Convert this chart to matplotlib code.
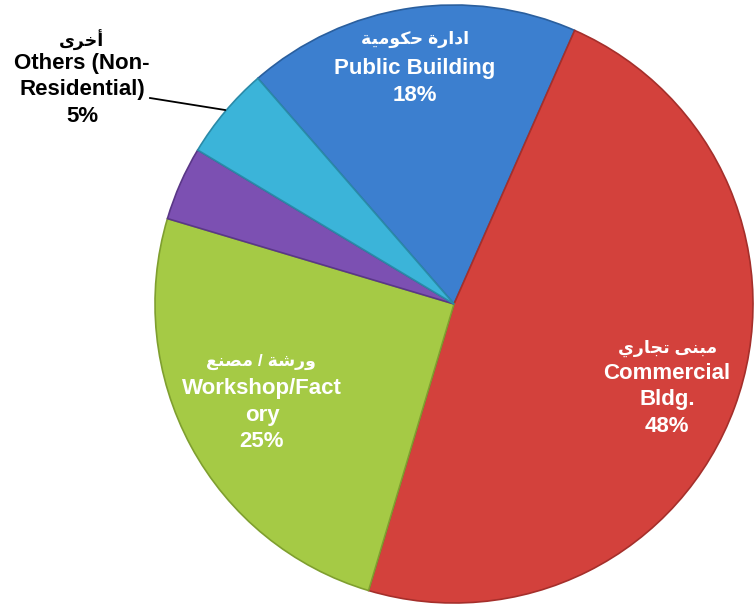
import matplotlib
matplotlib.use('Agg')
import matplotlib.pyplot as plt

# slice data, clockwise from the upper-left
shares = [18, 48, 25, 4, 5]
en_labels = ['Public Building\n18%', 'Commercial\nBldg.\n48%',
             'Workshop/Fact\nory\n25%', '', 'Others (Non-\nResidential)\n5%']
ar_labels = ['ادارة حكومية', 'مبنى تجاري', 'ورشة / مصنع', '', 'أخرى']
colors = ['#3c7fcf', '#d3413c', '#a5ca45', '#7c50b2', '#3bb4d9']
edge_colors = ['#2a5f9e', '#a52f2b', '#7f9f2f', '#5a3787', '#2a8aa8']

# isolated, final, initial, medial presentation forms
FORMS = {
    'ا': ('\uFE8D', '\uFE8E', None, None),
    'أ': ('\uFE83', '\uFE84', None, None),
    'ب': ('\uFE8F', '\uFE90', '\uFE91', '\uFE92'),
    'ة': ('\uFE93', '\uFE94', None, None),
    'ت': ('\uFE95', '\uFE96', '\uFE97', '\uFE98'),
    'ج': ('\uFE9D', '\uFE9E', '\uFE9F', '\uFEA0'),
    'ح': ('\uFEA1', '\uFEA2', '\uFEA3', '\uFEA4'),
    'خ': ('\uFEA5', '\uFEA6', '\uFEA7', '\uFEA8'),
    'د': ('\uFEA9', '\uFEAA', None, None),
    'ر': ('\uFEAD', '\uFEAE', None, None),
    'ش': ('\uFEB5', '\uFEB6', '\uFEB7', '\uFEB8'),
    'ص': ('\uFEB9', '\uFEBA', '\uFEBB', '\uFEBC'),
    'ع': ('\uFEC9', '\uFECA', '\uFECB', '\uFECC'),
    'ك': ('\uFED9', '\uFEDA', '\uFEDB', '\uFEDC'),
    'م': ('\uFEE1', '\uFEE2', '\uFEE3', '\uFEE4'),
    'ن': ('\uFEE5', '\uFEE6', '\uFEE7', '\uFEE8'),
    'و': ('\uFEED', '\uFEEE', None, None),
    'ى': ('\uFEEF', '\uFEF0', None, None),
    'ي': ('\uFEF1', '\uFEF2', '\uFEF3', '\uFEF4'),
}


def shape_arabic(text):
    """Join letters and reverse to visual order (no bidi lib available)."""
    out = []
    for i, ch in enumerate(text):
        if ch not in FORMS:
            out.append(ch)
            continue
        prev = text[i - 1] if i > 0 else ''
        nxt = text[i + 1] if i + 1 < len(text) else ''
        isol, fina, init, medi = FORMS[ch]
        j_prev = prev in FORMS and FORMS[prev][2] is not None
        j_next = nxt in FORMS and init is not None
        if j_prev and j_next:
            out.append(medi)
        elif j_prev:
            out.append(fina)
        elif j_next:
            out.append(init)
        else:
            out.append(isol)
    return ''.join(reversed(out))


W, H = 755, 616
fig = plt.figure(figsize=(W / 100, H / 100), dpi=100)
ax = fig.add_axes([0, 0, 1, 1])

cx, cy, r = 454, H - 304, 299
wedges, _ = ax.pie(shares, colors=colors, startangle=131, counterclock=False,
                   center=(cx, cy), radius=r, frame=True,
                   wedgeprops=dict(linewidth=1.2))
for w, ec in zip(wedges, edge_colors):
    w.set_edgecolor(ec)
ax.set_xlim(0, W)
ax.set_ylim(0, H)
ax.axis('off')

fam = ['Liberation Sans', 'DejaVu Sans']
# label anchors in pixel coords (x, y from top): arabic line, english block
ar_pos = [(415, 39), (668, 348), (261, 362), None, (82, 40)]
en_pos = [(415, 82), (667, 400), (262, 415), None, (82, 90)]
txt_colors = ['white', 'white', 'white', None, 'black']

for ar, en, pa, pe, tc in zip(ar_labels, en_labels, ar_pos, en_pos, txt_colors):
    if not en:
        continue
    ax.text(pa[0], H - pa[1], shape_arabic(ar), family=fam, fontsize=12.5,
            fontweight='bold', color=tc, ha='center', va='center')
    ax.text(pe[0], H - pe[1], en, family=fam, fontsize=16, fontweight='bold',
            color=tc, ha='center', va='center', linespacing=1.32)

# leader for the small "others" slice
ax.plot([150, 225], [H - 98, H - 110], color='black', lw=1.3)

fig.savefig('out.png', dpi=100, facecolor='white')
